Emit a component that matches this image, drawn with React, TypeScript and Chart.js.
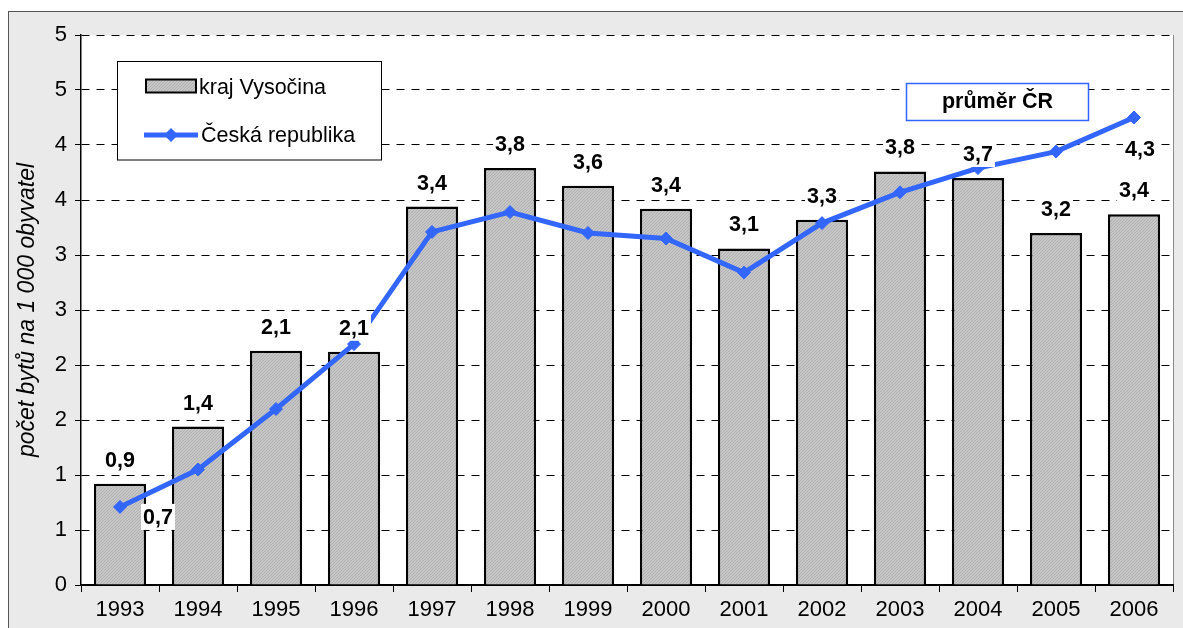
import React, { useEffect, useRef } from 'react';
import { Chart, registerables } from 'chart.js';

Chart.register(...registerables);

const years = ['1993', '1994', '1995', '1996', '1997', '1998', '1999', '2000', '2001', '2002', '2003', '2004', '2005', '2006'];
const krajVysocina = [0.92, 1.44, 2.13, 2.12, 3.44, 3.79, 3.63, 3.42, 3.06, 3.32, 3.76, 3.7, 3.2, 3.37];
const ceskaRepublika = [0.71, 1.05, 1.6, 2.19, 3.21, 3.39, 3.2, 3.15, 2.84, 3.29, 3.57, 3.79, 3.94, 4.25];
const yTickStep = 0.5;
const yMax = 5;
const seriesNames = ['kraj Vysočina', 'Česká republika'];
const yTitle = 'počet bytů na 1 000 obyvatel';
const noteText = 'průměr ČR';

const FONT = '"Liberation Sans", Arial, sans-serif';
const BLUE = '#3366ff';

function makePattern(): CanvasPattern | string {
  const c = document.createElement('canvas');
  c.width = 3;
  c.height = 3;
  const g = c.getContext('2d');
  if (!g) return '#bfbfbf';
  g.fillStyle = '#c6c6c6';
  g.fillRect(0, 0, 3, 3);
  g.fillStyle = '#b2b2b2';
  for (let i = 0; i < 3; i++) g.fillRect(i, 2 - i, 1, 1);
  const p = g.createPattern(c, 'repeat');
  return p || '#bfbfbf';
}

const fmt = (v: number) => v.toFixed(1).replace('.', ',');

export default function App() {
  const ref = useRef<HTMLCanvasElement | null>(null);

  useEffect(() => {
    const canvas = ref.current;
    if (!canvas) return;
    const pattern = makePattern();

    const labelBox = (ctx: CanvasRenderingContext2D, text: string, x: number, y: number) => {
      ctx.font = `bold 21.5px ${FONT}`;
      const w = ctx.measureText(text).width;
      ctx.fillStyle = '#ffffff';
      ctx.fillRect(x - w / 2 - 2, y - 13, w + 4, 26);
      ctx.fillStyle = '#000000';
      ctx.textAlign = 'center';
      ctx.textBaseline = 'middle';
      ctx.fillText(text, x, y + 1);
    };

    const decor = {
      id: 'decor',
      beforeDraw(chart: any) {
        const { ctx, chartArea: a } = chart;
        ctx.save();
        ctx.fillStyle = '#ffffff';
        ctx.fillRect(a.left, a.top, a.right - a.left, a.bottom - a.top);
        ctx.strokeStyle = '#8a8a8a';
        ctx.lineWidth = 1;
        ctx.beginPath();
        ctx.moveTo(a.right + 0.5, a.top);
        ctx.lineTo(a.right + 0.5, a.bottom);
        ctx.stroke();
        ctx.restore();
      },
      afterDraw(chart: any) {
        const ctx: CanvasRenderingContext2D = chart.ctx;
        ctx.save();
        // bar labels
        const barMeta = chart.getDatasetMeta(1);
        barMeta.data.forEach((el: any, i: number) => {
          labelBox(ctx, fmt(krajVysocina[i]), el.x, el.y - 24);
        });
        // line labels (first and last)
        const lineMeta = chart.getDatasetMeta(0);
        const first = lineMeta.data[0];
        const last = lineMeta.data[lineMeta.data.length - 1];
        labelBox(ctx, fmt(ceskaRepublika[0]), first.x + 38, first.y + 10);
        labelBox(ctx, fmt(ceskaRepublika[ceskaRepublika.length - 1]), last.x + 6, last.y + 32);

        // legend
        ctx.fillStyle = '#ffffff';
        ctx.fillRect(108.5, 49.5, 264, 98.5);
        ctx.strokeStyle = '#000000';
        ctx.lineWidth = 1;
        ctx.strokeRect(108.5, 49.5, 264, 98.5);
        ctx.fillStyle = pattern as any;
        ctx.fillRect(137, 67.5, 50, 13);
        ctx.lineWidth = 2;
        ctx.strokeRect(137, 67.5, 50, 13);
        ctx.strokeStyle = BLUE;
        ctx.lineWidth = 5;
        ctx.beginPath();
        ctx.moveTo(135, 123);
        ctx.lineTo(189, 123);
        ctx.stroke();
        ctx.fillStyle = BLUE;
        ctx.beginPath();
        ctx.moveTo(162 - 7, 123);
        ctx.lineTo(162, 116);
        ctx.lineTo(162 + 7, 123);
        ctx.lineTo(162, 130);
        ctx.closePath();
        ctx.fill();
        ctx.fillStyle = '#000000';
        ctx.font = `21.5px ${FONT}`;
        ctx.textAlign = 'left';
        ctx.textBaseline = 'alphabetic';
        ctx.fillText(seriesNames[0], 190, 82);
        ctx.fillText(seriesNames[1], 192, 130);

        // note box
        ctx.fillStyle = '#ffffff';
        ctx.fillRect(897.5, 71.5, 182, 37);
        ctx.strokeStyle = BLUE;
        ctx.lineWidth = 1.5;
        ctx.strokeRect(897.5, 71.5, 182, 37);
        ctx.fillStyle = '#000000';
        ctx.font = `bold 21.5px ${FONT}`;
        ctx.textAlign = 'center';
        ctx.fillText(noteText, 988.5, 96);
        ctx.restore();
      },
    };

    const chart = new Chart(canvas, {
      data: {
        labels: years,
        datasets: [
          {
            type: 'line',
            label: seriesNames[1],
            data: ceskaRepublika,
            borderColor: BLUE,
            backgroundColor: BLUE,
            borderWidth: 5,
            pointStyle: 'rectRot',
            pointRadius: 6.5,
            pointBorderWidth: 1,
            pointBackgroundColor: BLUE,
            pointBorderColor: BLUE,
            tension: 0,
            order: 0,
          } as any,
          {
            type: 'bar',
            label: seriesNames[0],
            data: krajVysocina,
            backgroundColor: pattern as any,
            borderColor: '#000000',
            borderWidth: 2.5,
            barPercentage: 0.67,
            categoryPercentage: 1,
            order: 1,
          } as any,
        ],
      },
      options: {
        animation: false,
        responsive: false,
        devicePixelRatio: 1,
        layout: { padding: { left: 0, right: 10, top: 23, bottom: 0 } },
        plugins: {
          legend: { display: false },
          tooltip: { enabled: false },
        },
        scales: {
          x: {
            type: 'category',
            offset: true,
            grid: {
              offset: true,
              drawOnChartArea: false,
              drawTicks: true,
              tickLength: 7,
              color: '#000000',
              lineWidth: 1,
            },
            border: { display: true, color: '#000000', width: 2 },
            ticks: {
              color: '#000000',
              font: { family: FONT, size: 22 },
              padding: 5,
              maxRotation: 0,
              autoSkip: false,
            },
            afterFit: (s: any) => {
              s.height = 43;
            },
          },
          y: {
            min: 0,
            max: yMax,
            ticks: {
              stepSize: yTickStep,
              callback: (v: any) => String(Math.round(Number(v))),
              color: '#000000',
              font: { family: FONT, size: 22 },
              padding: 8,
            },
            grid: {
              color: '#000000',
              lineWidth: 1,
              tickLength: 6,
              tickColor: '#000000',
              tickBorderDash: [],
            } as any,
            border: { display: true, color: '#000000', width: 1.5, dash: [8, 7] },
            title: {
              display: true,
              text: yTitle,
              color: '#000000',
              font: { family: FONT, size: 23, style: 'italic' },
              padding: { top: 5, bottom: 0 },
            },
            afterFit: (s: any) => {
              s.width = 72;
            },
          },
        },
      } as any,
      plugins: [decor],
    });

    return () => chart.destroy();
  }, []);

  return (
    <div
      style={{
        position: 'fixed',
        left: 8,
        top: 11,
        right: 0,
        bottom: 0,
        background: '#eaeaea',
        borderLeft: '1px solid #555',
        borderTop: '1px solid #555',
        overflow: 'hidden',
      }}
    >
      <canvas ref={ref} width={1174} height={616} style={{ display: 'block', width: 1174, height: 616 }} />
    </div>
  );
}
